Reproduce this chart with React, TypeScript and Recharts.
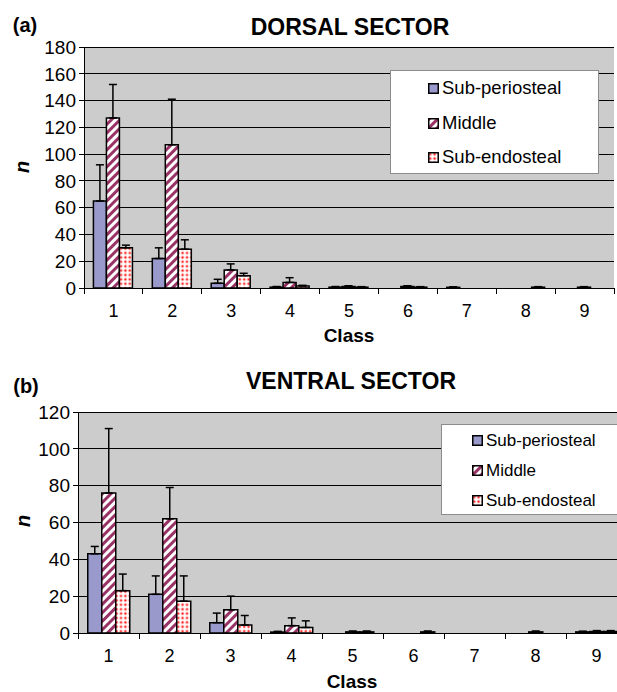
import React from "react";
import { Bar, BarChart, CartesianGrid, ErrorBar, Legend, XAxis, YAxis } from "recharts";

// Classes on the x axis
const classes = ["1", "2", "3", "4", "5", "6", "7", "8", "9"];
const seriesNames = ["Sub-periosteal", "Middle", "Sub-endosteal"];

// (a) dorsal sector: means and upper error (SD)
const dorsalPeri = [65, 22, 3.5, 0.6, 0.6, 0, 0.5, 0, 0];
const dorsalPeriErr = [27, 8, 3, 0.5, 0.5, 0, 0.4, 0, 0];
const dorsalMid = [127, 107, 13.5, 4.2, 1.2, 1.2, 0, 0, 0.6];
const dorsalMidErr = [25, 34, 4.5, 3.5, 0.5, 0.5, 0, 0, 0.4];
const dorsalEndo = [30, 29, 9.2, 1.5, 0.6, 0.6, 0, 0.6, 0];
const dorsalEndoErr = [2, 7, 1.8, 0.5, 0.4, 0.4, 0, 0.4, 0];
const dorsalTicks = [0, 20, 40, 60, 80, 100, 120, 140, 160, 180];

// (b) ventral sector
const ventralPeri = [43, 21, 5.6, 0.5, 0, 0, 0, 0, 0.6];
const ventralPeriErr = [4, 10, 5.2, 0.4, 0, 0, 0, 0, 0.4];
const ventralMid = [76, 62, 12.6, 4, 0.6, 0, 0, 0.6, 0.8];
const ventralMidErr = [35, 17, 7.4, 4.2, 0.5, 0, 0, 0.5, 0.5];
const ventralEndo = [23, 17.3, 4.3, 3, 0.6, 0.6, 0, 0, 0.8];
const ventralEndoErr = [9, 13.7, 5.2, 3.6, 0.5, 0.5, 0, 0, 0.5];
const ventralTicks = [0, 20, 40, 60, 80, 100, 120];

const FONT = "Arial, 'Liberation Sans', Helvetica, sans-serif";

const buildRows = (
  peri: number[],
  periErr: number[],
  mid: number[],
  midErr: number[],
  endo: number[],
  endoErr: number[]
) =>
  classes.map((cls, i) => ({
    cls,
    peri: peri[i],
    periErr: [0, periErr[i]],
    mid: mid[i],
    midErr: [0, midErr[i]],
    endo: endo[i],
    endoErr: [0, endoErr[i]],
  }));

const dorsalData = buildRows(dorsalPeri, dorsalPeriErr, dorsalMid, dorsalMidErr, dorsalEndo, dorsalEndoErr);
const ventralData = buildRows(ventralPeri, ventralPeriErr, ventralMid, ventralMidErr, ventralEndo, ventralEndoErr);

// x tick: label at band centre, tick marks at band edges
const ClassTick = (props: any) => {
  const { x, y, payload, index, fontSize } = props;
  const half = payload.offset ?? 29.5;
  const axisY = y - 8;
  const last = index === classes.length - 1;
  return (
    <g>
      <line x1={x - half} y1={axisY} x2={x - half} y2={axisY + 6} stroke="#000" strokeWidth={1} shapeRendering="crispEdges" />
      {last && (
        <line x1={x + half} y1={axisY} x2={x + half} y2={axisY + 6} stroke="#000" strokeWidth={1} shapeRendering="crispEdges" />
      )}
      <text x={x} y={y + 8} dy="0.71em" textAnchor="middle" fill="#000" fontSize={fontSize} fontFamily={FONT}>
        {payload.value}
      </text>
    </g>
  );
};

const LegendBox = (props: any) => {
  const { payload, fontSize, rowH, indent } = props;
  const items = [...(payload || [])].sort(
    (p: any, q: any) => seriesNames.indexOf(p.value) - seriesNames.indexOf(q.value)
  );
  return (
    <div
      style={{
        width: "100%",
        height: "100%",
        boxSizing: "border-box",
        background: "#fff",
        border: "1px solid #8c8c8c",
        fontFamily: FONT,
        fontSize,
        color: "#000",
      }}
    >
      {items.map((e: any) => (
        <div key={e.value} style={{ display: "flex", alignItems: "center", height: rowH, paddingLeft: indent }}>
          <svg width={11} height={11} style={{ display: "block" }}>
            <rect x={0.75} y={0.75} width={9.5} height={9.5} fill={e.color} stroke="#000" strokeWidth={1.5} />
          </svg>
          <span style={{ marginLeft: 3, lineHeight: 1 }}>{e.value}</span>
        </div>
      ))}
    </div>
  );
};

interface PanelProps {
  id: string;
  data: ReturnType<typeof buildRows>;
  ticks: number[];
  width: number;
  height: number;
  margin: { top: number; right: number; left: number; bottom: number };
  legend: { left: number; top: number; width: number; height: number; rowH: number; indent: number; fontSize: number };
}

const Panel = ({ id, data, ticks, width, height, margin, legend }: PanelProps) => (
  <BarChart width={width} height={height} data={data} margin={margin} barCategoryGap="16%" barGap={0}>
    <defs>
      <pattern id={`stripes-${id}`} width="6" height="6" patternUnits="userSpaceOnUse" patternTransform="rotate(45)">
        <rect width="6" height="6" fill="#ffffff" />
        <rect width="3" height="6" fill="#993366" />
      </pattern>
      <pattern id={`dots-${id}`} width="4.4" height="4.4" patternUnits="userSpaceOnUse">
        <rect width="4.4" height="4.4" fill="#ffffff" />
        <circle cx="2.2" cy="2.2" r="1.7" fill="#ffb3b3" />
        <circle cx="2.2" cy="2.2" r="0.9" fill="#ff0000" />
      </pattern>
    </defs>
    <CartesianGrid
      vertical={false}
      stroke="#000"
      strokeWidth={1}
      strokeOpacity={1}
      fill="#cccccc"
      fillOpacity={1}
      shapeRendering="crispEdges"
    />
    <XAxis
      dataKey="cls"
      height={30}
      axisLine={{ stroke: "#000", strokeWidth: 1, shapeRendering: "crispEdges" }}
      tickLine={false}
      tickSize={6}
      tickMargin={2}
      interval={0}
      tick={<ClassTick fontSize={18} />}
    />
    <YAxis
      width={40}
      domain={[0, ticks[ticks.length - 1]]}
      ticks={ticks}
      interval={0}
      tickSize={5}
      tickMargin={3}
      axisLine={{ stroke: "#000", strokeWidth: 1, shapeRendering: "crispEdges" }}
      tickLine={{ stroke: "#000", strokeWidth: 1, shapeRendering: "crispEdges" }}
      tick={{ fill: "#000", fontSize: 19, fontFamily: FONT }}
    />
    <YAxis yAxisId="edge" orientation="right" width={0} tick={false} tickLine={false} axisLine={{ stroke: "#555", strokeWidth: 1.5 }} />
    <Legend
      layout="vertical"
      align="center"
      verticalAlign="middle"
      wrapperStyle={{ left: legend.left, top: legend.top, width: legend.width, height: legend.height }}
      content={<LegendBox fontSize={legend.fontSize} rowH={legend.rowH} indent={legend.indent} />}
    />
    <Bar dataKey="peri" name={seriesNames[0]} fill="#9999cc" stroke="#000" strokeWidth={1.5} isAnimationActive={false}>
      <ErrorBar dataKey="periErr" direction="y" width={4} stroke="#000" strokeWidth={1.5} />
    </Bar>
    <Bar dataKey="mid" name={seriesNames[1]} fill={`url(#stripes-${id})`} stroke="#000" strokeWidth={1.5} isAnimationActive={false}>
      <ErrorBar dataKey="midErr" direction="y" width={4} stroke="#000" strokeWidth={1.5} />
    </Bar>
    <Bar dataKey="endo" name={seriesNames[2]} fill={`url(#dots-${id})`} stroke="#000" strokeWidth={1.5} isAnimationActive={false}>
      <ErrorBar dataKey="endoErr" direction="y" width={4} stroke="#000" strokeWidth={1.5} />
    </Bar>
  </BarChart>
);

const abs = (left: number, top: number, extra: React.CSSProperties = {}): React.CSSProperties => ({
  position: "absolute",
  left,
  top,
  transform: "translate(-50%, -50%)",
  whiteSpace: "nowrap",
  fontFamily: FONT,
  color: "#000",
  lineHeight: 1,
  ...extra,
});

export default function App() {
  return (
    <>
      <style>{"html, body { margin: 0; padding: 0; overflow: hidden; background: #fff; }"}</style>
      <div style={{ position: "relative", width: 617, height: 692, overflow: "hidden", background: "#fff" }}>
        <div style={{ position: "absolute", left: 0, top: 0 }}>
          <Panel
            id="a"
            data={dorsalData}
            ticks={dorsalTicks}
            width={617}
            height={345}
            margin={{ top: 47, right: 3, left: 44, bottom: 27 }}
            legend={{ left: 390, top: 70, width: 209, height: 104, rowH: 34.7, indent: 37, fontSize: 18.5 }}
          />
        </div>
        <div style={{ position: "absolute", left: 0, top: 365 }}>
          <Panel
            id="b"
            data={ventralData}
            ticks={ventralTicks}
            width={660}
            height={327}
            margin={{ top: 47, right: 33, left: 38, bottom: 29 }}
            legend={{ left: 441, top: 59, width: 210, height: 91, rowH: 30.3, indent: 30, fontSize: 17 }}
          />
        </div>

        <div style={abs(25, 25, { fontSize: 20, fontWeight: "bold" })}>(a)</div>
        <div style={abs(350, 27, { fontSize: 23, fontWeight: "bold" })}>DORSAL SECTOR</div>
        <div style={abs(22, 167, { fontSize: 20, fontWeight: "bold", fontStyle: "italic", transform: "translate(-50%, -50%) rotate(-90deg)" })}>n</div>
        <div style={abs(349, 335, { fontSize: 19, fontWeight: "bold" })}>Class</div>

        <div style={abs(26, 386, { fontSize: 20, fontWeight: "bold" })}>(b)</div>
        <div style={abs(351, 381, { fontSize: 23, fontWeight: "bold" })}>VENTRAL SECTOR</div>
        <div style={abs(23, 521, { fontSize: 20, fontWeight: "bold", fontStyle: "italic", transform: "translate(-50%, -50%) rotate(-90deg)" })}>n</div>
        <div style={abs(352, 681, { fontSize: 19, fontWeight: "bold" })}>Class</div>
      </div>
    </>
  );
}
